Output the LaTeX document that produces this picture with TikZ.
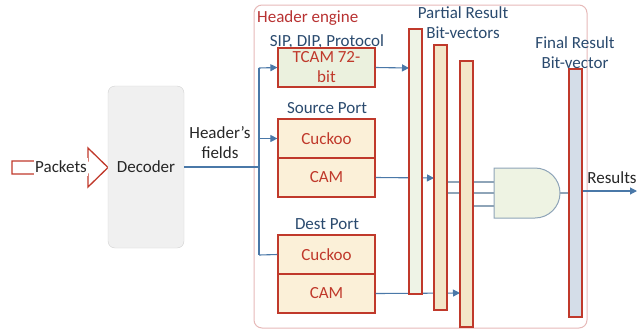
\documentclass[tikz,border=0pt]{standalone}
\usepackage{fontspec}
\setmainfont{Carlito}
\usetikzlibrary{arrows.meta}
\definecolor{boxred}{HTML}{C0392B}
\definecolor{txtred}{HTML}{B83232}
\definecolor{txtblue}{HTML}{2A4A6E}
\definecolor{txtdark}{HTML}{262626}
\definecolor{wire}{HTML}{4A78A8}
\definecolor{gatewire}{HTML}{8EA4B8}
\definecolor{greenfill}{HTML}{EBF1DE}
\definecolor{creamfill}{HTML}{FBF0D8}
\definecolor{beigefill}{HTML}{F3E6C8}
\definecolor{palegreen}{HTML}{EEF3E6}
\definecolor{bluegray}{HTML}{D4DDE8}
\definecolor{enginebd}{HTML}{E6B9B8}
\tikzset{
  x=1pt, y=-1pt,
  every node/.style={font=\fontsize{17}{20}\selectfont, inner sep=0pt},
  redbox/.style={draw=boxred, line width=1.2pt, minimum width=97pt},
  bitbar/.style={draw=boxred, line width=1.2pt, minimum width=13pt},
  arr/.style={draw=wire, line width=1.1pt, -{Triangle[length=7pt,width=7pt]}},
  plain/.style={draw=wire, line width=1.1pt},
  gline/.style={draw=gatewire, line width=1.1pt},
  bluetxt/.style={text=txtblue},
}
\begin{document}
\begin{tikzpicture}
\useasboundingbox (0,0) rectangle (640,330);

% header engine frame
\draw[enginebd, line width=1pt, rounded corners=8pt] (254,5) rectangle (587,328);
\node[anchor=west, text=txtred] (eng) at (257,18) {Header engine};

% input packets block arrow and decoder
\draw[boxred, line width=1.3pt, line join=miter]
  (12,161) -- (88,161) -- (88,148) -- (108,167.5) -- (88,187) -- (88,174) -- (12,174) -- cycle;
\node[fill=white, inner xsep=1pt, inner ysep=3pt, text=txtdark] (pk) at (61,167) {Packets};
\node[draw=black!18, fill=black!6, rounded corners=7pt, minimum width=76pt, minimum height=162pt, text=txtdark]
  (dec) at (146,167) {Decoder};
\node[align=center, text=txtdark] (hf) at (220,143) {Header’s\\fields};

% lookup tables
\node[bluetxt] (sipl) at (327,42) {SIP, DIP, Protocol};
\node[redbox, fill=greenfill, minimum height=39pt, align=center, text=boxred] (tcam) at (326.5,67.5) {TCAM 72-\\bit};
\node[bluetxt] (spl) at (327,108) {Source Port};
\node[redbox, fill=creamfill, minimum height=39pt, text=boxred] (srcC) at (326.5,138.5) {Cuckoo};
\node[redbox, fill=creamfill, minimum height=39pt, text=boxred] (srcM) at (326.5,177.5) {CAM};
\node[bluetxt] (dpl) at (327,224) {Dest Port};
\node[redbox, fill=creamfill, minimum height=39pt, text=boxred] (dstC) at (326.5,254.5) {Cuckoo};
\node[redbox, fill=creamfill, minimum height=39pt, text=boxred] (dstM) at (326.5,293.5) {CAM};

% header field bus
\coordinate (busT) at (259,68);
\coordinate (busB) at (259,255);
\draw[plain] (dec.east) -- (dec.east -| busT);
\draw[plain] (busT) -- (busB);
\draw[arr] (busT) -- (tcam.west);
\draw[arr] (busT |- srcC.west) -- (srcC.west);
\draw[plain] (busB) -- (dstC.west);

% bit-vector bar positions
\coordinate (b1) at (415.5,161.5);
\coordinate (b2) at (440.5,177.5);
\coordinate (b3) at (466.5,194);
\coordinate (bf) at (575.5,193);

% table outputs (behind the bars)
\draw[arr] (tcam.east) -- (409,68);
\draw[arr] (srcM.east) -- (434,178);
\draw[arr] (dstM.east) -- (460,293);

% AND gate
\coordinate (gin1) at (494,182);
\coordinate (gin2) at (494,193);
\coordinate (gin3) at (494,206);
\coordinate (gout) at (560,193);
\draw[gline] (447,182) -- (gin1);
\draw[gline] (447,193) -- (gin2);
\draw[gline] (473,206) -- (gin3);
\draw[gline] (gout) -- (569,193);
\draw[draw=gatewire, fill=greenfill!85!white, line width=1pt]
  (494,168) -- (535,168) arc[start angle=-90, end angle=90, radius=25] -- (494,218) -- cycle;

% bit-vectors
\node[bitbar, fill=palegreen, minimum height=265pt] (bar1) at (b1) {};
\node[bitbar, fill=beigefill, minimum height=265pt] (bar2) at (b2) {};
\node[bitbar, fill=beigefill, minimum height=266pt] (bar3) at (b3) {};
\node[bluetxt, align=center] (prl) at (463,23) {Partial Result\\Bit-vectors};
\node[bluetxt, align=center] (frl) at (575,53) {Final Result\\Bit-vector};
\node[bitbar, fill=bluegray, minimum height=248pt] (barF) at (bf) {};

% results
\coordinate (res) at (637,191);
\draw[arr] (barF.east |- res) -- (res);
\node[text=txtdark] (rl) at (612,178) {Results};
\end{tikzpicture}
\end{document}
